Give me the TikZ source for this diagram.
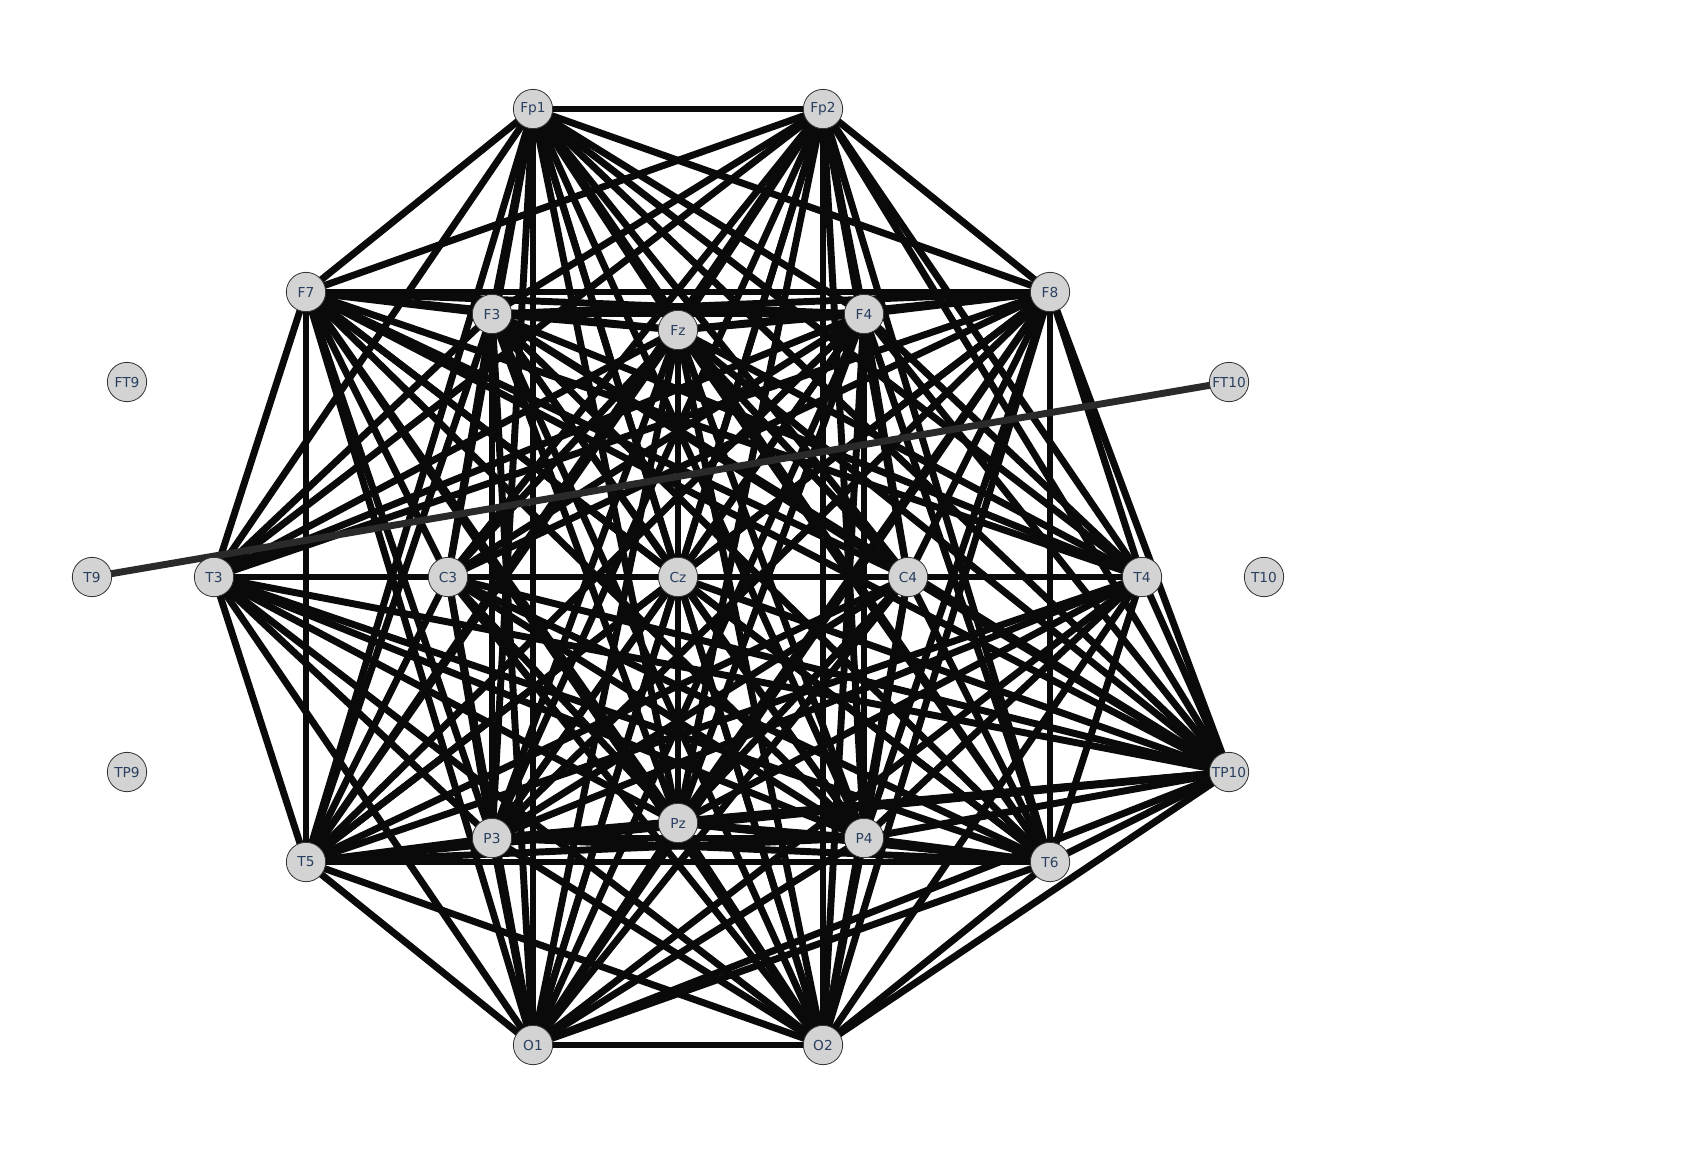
\documentclass[tikz,border=0pt]{standalone}
\usepackage{fontspec}
\setmainfont{DejaVu Sans}
\usepackage{tikz}
\usetikzlibrary{backgrounds}

\definecolor{edgeblack}{RGB}{10,10,10}
\definecolor{edgegrey}{RGB}{42,42,42}
\definecolor{nodegrey}{RGB}{211,211,211}
\definecolor{labelblue}{RGB}{42,63,95}

\tikzset{
  electrode/.style={circle, draw={rgb,255:red,51;green,51;blue,51}, line width=0.6pt, fill=nodegrey,
    minimum size=29.5pt, inner sep=0pt, font=\fontsize{10.3}{12}\selectfont, text=labelblue},
  link/.style={draw=edgeblack, line width=5.2pt},
}

\def\chanlist{Fp1,Fp2,F7,F3,Fz,F4,F8,T3,C3,Cz,C4,T4,T5,P3,Pz,P4,T6,O1,O2}

\begin{document}
\begin{tikzpicture}[x=0.75pt,y=0.75pt,yscale=-1,xscale=1]
\useasboundingbox (0,0) rectangle (1706,1165);

% Electrodes, frontal
\node[electrode] (Fp1) at (533,109) {Fp1};
\node[electrode] (Fp2) at (823,109) {Fp2};
\node[electrode] (F7) at (306,292) {F7};
\node[electrode] (F3) at (492,314) {F3};
\node[electrode] (Fz) at (678,330) {Fz};
\node[electrode] (F4) at (864,314) {F4};
\node[electrode] (F8) at (1050,292) {F8};
\node[electrode] (FT9) at (127,382) {FT9};
\node[electrode] (FT10) at (1229,382) {FT10};
% Electrodes, central row
\node[electrode] (T9) at (92,577) {T9};
\node[electrode] (T3) at (214,577) {T3};
\node[electrode] (C3) at (448,577) {C3};
\node[electrode] (Cz) at (678,577) {Cz};
\node[electrode] (C4) at (908,577) {C4};
\node[electrode] (T4) at (1142,577) {T4};
\node[electrode] (T10) at (1264,577) {T10};
% Electrodes, parietal and occipital
\node[electrode] (TP9) at (127,772) {TP9};
\node[electrode] (TP10) at (1229,772) {TP10};
\node[electrode] (T5) at (306,862) {T5};
\node[electrode] (P3) at (492,838) {P3};
\node[electrode] (Pz) at (678,823) {Pz};
\node[electrode] (P4) at (864,838) {P4};
\node[electrode] (T6) at (1050,862) {T6};
\node[electrode] (O1) at (533,1045) {O1};
\node[electrode] (O2) at (823,1045) {O2};

% Connections
\begin{scope}[on background layer]
\foreach \a [count=\i] in \chanlist {
  \foreach \b [count=\j] in \chanlist {
    \ifnum\j>\i \draw[link] (\a.center) -- (\b.center); \fi
  }
}
\foreach \b in \chanlist
  \draw[link] (TP10.center) -- (\b.center);
\draw[link, draw=edgegrey] (T9.center) -- (FT10.center);
\end{scope}
\end{tikzpicture}
\end{document}
